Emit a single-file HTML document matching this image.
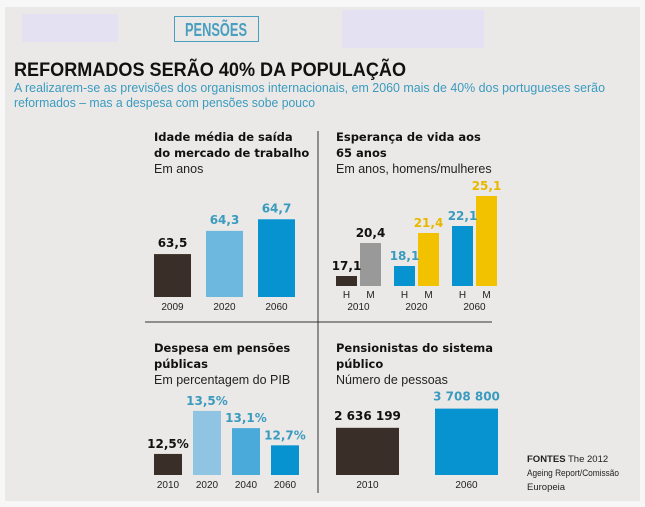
<!DOCTYPE html>
<html><head><meta charset="utf-8">
<style>
html,body{margin:0;padding:0;width:645px;height:507px;overflow:hidden;background:#f7f7f7;}
svg{display:block;}
text{font-family:"Liberation Sans",sans-serif;}
.t{font-family:"DejaVu Sans",sans-serif;font-weight:bold;font-size:11.5px;fill:#111;}
.s{font-size:12.5px;fill:#222;}
.yr{font-size:10px;fill:#222;}
.v{font-family:"DejaVu Sans",sans-serif;font-weight:bold;font-size:12px;}
</style></head>
<body>
<svg id="c" width="645" height="507" xmlns="http://www.w3.org/2000/svg">
<rect x="5" y="7" width="635" height="494" fill="#ebe9e7"/>
<rect x="22" y="14" width="96" height="28" fill="#e4e2f2"/>
<rect x="174.5" y="16.5" width="84" height="25" fill="none" stroke="#4a9fc0" stroke-width="1"/>
<text x="216" y="36" text-anchor="middle" textLength="62" lengthAdjust="spacingAndGlyphs" style="font-weight:bold;font-size:18px;fill:#4a9fc0">PENSÕES</text>
<rect x="342" y="10" width="142" height="38" fill="#e4e2f2"/>
<text x="14" y="76" textLength="392" lengthAdjust="spacingAndGlyphs" style="font-weight:bold;font-size:19px;fill:#111">REFORMADOS SERÃO 40% DA POPULAÇÃO</text>
<text x="14" y="92" textLength="591" lengthAdjust="spacingAndGlyphs" style="font-size:12.5px;fill:#3a9bbf">A realizarem-se as previsões dos organismos internacionais, em 2060 mais de 40% dos portugueses serão</text>
<text x="14" y="107" textLength="301" lengthAdjust="spacingAndGlyphs" style="font-size:12.5px;fill:#3a9bbf">reformados – mas a despesa com pensões sobe pouco</text>
<line x1="318" y1="131" x2="318" y2="493" stroke="#333" stroke-width="1"/>
<line x1="145" y1="322" x2="492" y2="322" stroke="#333" stroke-width="1"/>

<text class="t" x="154" y="141">Idade média de saída</text>
<text class="t" x="154" y="157">do mercado de trabalho</text>
<text class="s" x="154" y="173">Em anos</text>

<text class="t" x="336" y="141">Esperança de vida aos</text>
<text class="t" x="336" y="157">65 anos</text>
<text class="s" x="336" y="173">Em anos, homens/mulheres</text>

<text class="t" x="154" y="352">Despesa em pensões</text>
<text class="t" x="154" y="368">públicas</text>
<text class="s" x="154" y="384">Em percentagem do PIB</text>

<text class="t" x="336" y="352">Pensionistas do sistema</text>
<text class="t" x="336" y="368">público</text>
<text class="s" x="336" y="384">Número de pessoas</text>

<text x="527" y="462" style="font-size:9.5px;fill:#222"><tspan style="font-weight:bold">FONTES</tspan> The 2012</text>
<text x="527" y="476" textLength="92" lengthAdjust="spacingAndGlyphs" style="font-size:9.5px;fill:#222">Ageing Report/Comissão</text>
<text x="527" y="490" style="font-size:9.5px;fill:#222">Europeia</text>
<g id="marks"></g>
</svg>
<script>
const ageYears=["2009","2020","2060"];
const ageValues=[63.5,64.3,64.7];
const ageLabels=["63,5","64,3","64,7"];
const lifeYears=["2010","2020","2060"];
const lifeMen=[17.1,18.1,22.1];
const lifeWomen=[20.4,21.4,25.1];
const lifeMenLabels=["17,1","18,1","22,1"];
const lifeWomenLabels=["20,4","21,4","25,1"];
const spendYears=["2010","2020","2040","2060"];
const spendValues=[12.5,13.5,13.1,12.7];
const spendLabels=["12,5%","13,5%","13,1%","12,7%"];
const pensYears=["2010","2060"];
const pensValues=[2636199,3708800];
const pensLabels=["2 636 199","3 708 800"];

const NS="http://www.w3.org/2000/svg";
const g=document.getElementById("marks");
function mk(tag,attrs,txt){const e=document.createElementNS(NS,tag);for(const k in attrs)e.setAttribute(k,attrs[k]);if(txt!==undefined)e.textContent=txt;g.appendChild(e);return e;}
function bar(x,w,base,top,fill,name){const r=mk("rect",{x:x,y:top,width:w,height:base-top,fill:fill});

}
function lab(x,y,t,cls,fill,name,anchor){const e=mk("text",{x:x,y:y,"class":cls,fill:fill,"text-anchor":anchor||"middle"},t);

}

// Panel 1
const y1=v=>297-(v-62.02)*29;
const c1=["#3a2e28","#6cb8de","#0693cf"],lc1=["#111","#3a9bbf","#3a9bbf"];
ageValues.forEach((v,i)=>{const x=154+i*52;bar(x,37,297,y1(v),c1[i],"age-bar-"+ageYears[i]);
lab(x+18.5,y1(v)-7,ageLabels[i],"v",lc1[i],"age-value-"+ageYears[i]);
lab(x+18.5,310,ageYears[i],"yr","#222","age-year-"+ageYears[i]);});

// Panel 2
const y2=v=>286-(v-16.1)*10;
const mc=["#3a2e28","#0693cf","#0693cf"],wc=["#999999","#f2c200","#f2c200"];
const mlc=["#111","#3a9bbf","#3a9bbf"],wlc=["#111","#e8b800","#e8b800"];
lifeYears.forEach((yr,i)=>{const x=336+i*58;
bar(x,21,286,y2(lifeMen[i]),mc[i],"life-men-bar-"+yr);
bar(x+24,21,286,y2(lifeWomen[i]),wc[i],"life-women-bar-"+yr);
lab(x+10.5,y2(lifeMen[i])-6,lifeMenLabels[i],"v",mlc[i],"life-men-value-"+yr);
lab(x+34.5,y2(lifeWomen[i])-6,lifeWomenLabels[i],"v",wlc[i],"life-women-value-"+yr);
lab(x+10.5,298,"H","yr","#222","life-h-label-"+yr);
lab(x+34.5,298,"M","yr","#222","life-m-label-"+yr);
lab(x+22.5,310,yr,"yr","#222","life-year-"+yr);});

// Panel 3
const y3=v=>475-(v-12.01)*43;
const c3=["#3a2e28","#8fc5e3","#4aabdb","#0693cf"],lc3=["#111","#3a9bbf","#3a9bbf","#3a9bbf"];
spendValues.forEach((v,i)=>{const x=154+i*39;bar(x,28,475,y3(v),c3[i],"spend-bar-"+spendYears[i]);
lab(x+14,y3(v)-6,spendLabels[i],"v",lc3[i],"spend-value-"+spendYears[i]);
lab(x+14,488,spendYears[i],"yr","#222","spend-year-"+spendYears[i]);});

// Panel 4
const y4=v=>475-v/1e6*17.9;
const c4=["#3a2e28","#0693cf"],lc4=["#111","#3a9bbf"];
pensValues.forEach((v,i)=>{const x=336+i*99;bar(x,63,475,y4(v),c4[i],"pensioners-bar-"+pensYears[i]);
lab(x+31.5,y4(v)-8,pensLabels[i],"v",lc4[i],"pensioners-value-"+pensYears[i]);
lab(x+31.5,488,pensYears[i],"yr","#222","pensioners-year-"+pensYears[i]);});
</script>
</body></html>
